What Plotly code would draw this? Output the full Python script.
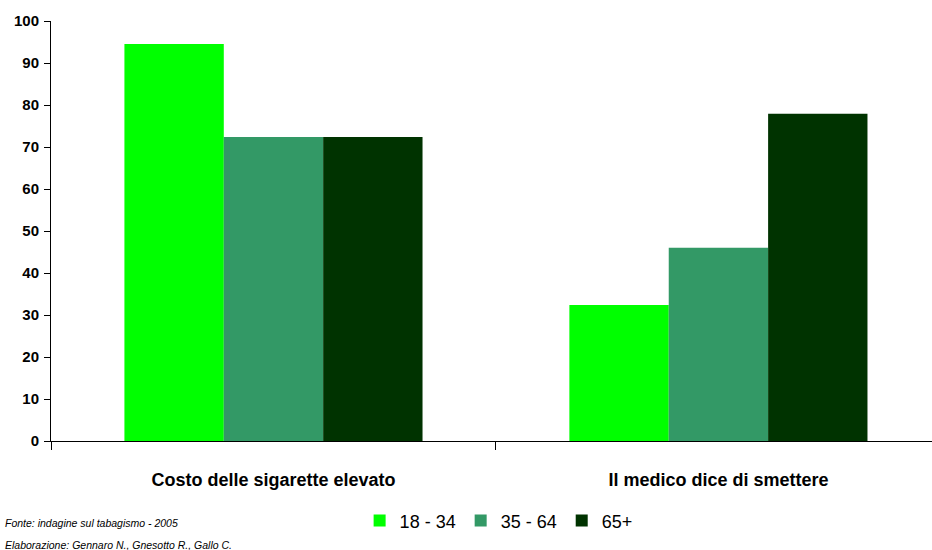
import plotly.graph_objects as go

categories = ["Costo delle sigarette elevato", "Il medico dice di smettere"]
series_names = ["18 - 34", "35 - 64", "65+"]
values_18_34 = [94.5, 32.4]
values_35_64 = [72.4, 46.0]
values_65 = [72.4, 77.9]
colors = ["#00FF00", "#339966", "#003300"]
y_ticks = [0, 10, 20, 30, 40, 50, 60, 70, 80, 90, 100]

NARROW = "Liberation Sans Narrow, Arial Narrow, Liberation Sans, Arial"

fig = go.Figure()
for name, vals, col in zip(series_names, [values_18_34, values_35_64, values_65], colors):
    fig.add_trace(go.Bar(x=categories, y=vals, name=name, marker=dict(color=col, line=dict(width=0))))

fig.update_layout(
    width=932, height=550,
    margin=dict(l=51, r=0, t=21, b=109, autoexpand=False),
    paper_bgcolor="white", plot_bgcolor="white",
    barmode="group", bargap=0.33, bargroupgap=0,
    showlegend=True,
    legend=dict(orientation="h", x=0.535, xanchor="center", xref="container",
                y=0.053, yanchor="middle", yref="container",
                font=dict(family="Liberation Sans, Arial", size=18, color="black"),
                itemwidth=30, tracegroupgap=0, bgcolor="rgba(0,0,0,0)"),
    xaxis=dict(type="category", range=[-0.5, 1.48], tickson="boundaries",
               ticks="outside", ticklen=8, tickcolor="black", automargin=False,
               showline=True, linecolor="black", linewidth=1,
               showgrid=False, zeroline=False, ticklabelstandoff=22,
               tickfont=dict(family=NARROW, size=18, color="black", weight="bold")),
    yaxis=dict(range=[0, 100], tickvals=y_ticks, ticks="outside", ticklen=6, tickcolor="black",
               showline=True, linecolor="black", linewidth=1, automargin=False,
               showgrid=False, zeroline=False, ticklabelstandoff=2,
               tickfont=dict(family=NARROW, size=15, color="black", weight="bold")),
    annotations=[
        dict(text="Fonte: indagine sul tabagismo - 2005", xref="paper", yref="paper",
             x=-0.0545, y=-0.195, xanchor="left", yanchor="middle", showarrow=False,
             font=dict(family=NARROW, size=10.5, color="black", style="italic")),
        dict(text="Elaborazione: Gennaro N., Gnesotto R., Gallo C.", xref="paper", yref="paper",
             x=-0.0545, y=-0.248, xanchor="left", yanchor="middle", showarrow=False,
             font=dict(family=NARROW, size=10.5, color="black", style="italic")),
    ],
)

fig.write_html("out.html", config={"displayModeBar": False},
               post_script="document.body.style.margin='0';document.body.style.overflow='hidden';")
